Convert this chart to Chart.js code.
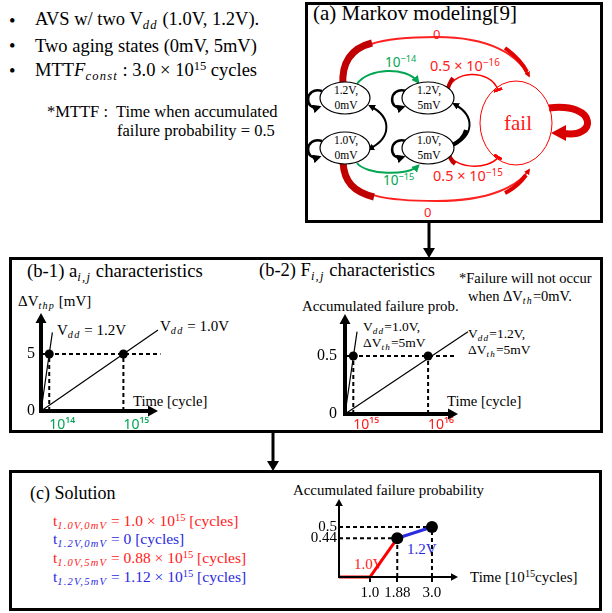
<!DOCTYPE html>
<html><head><meta charset="utf-8">
<script src="https://cdn.jsdelivr.net/npm/chart.js@4"></script>
<style>
body{margin:0;background:#fff;width:612px;height:613px;overflow:hidden;position:relative;font-family:"Liberation Serif","Times New Roman",serif;}
.t{position:absolute;white-space:nowrap;line-height:1;transform:translateY(-50%);color:#000;font-family:"Liberation Serif",serif}
.box{position:absolute;border:3px solid #000;box-sizing:border-box}
canvas{position:absolute}
.s{font-size:0.68em;vertical-align:-0.3em;font-style:italic;letter-spacing:1.2px}
.p{font-size:0.68em;vertical-align:0.5em}
.t.m{font-family:"Noto Sans",sans-serif}
.g{color:#00a651}.r{color:#ff1a1a}.b{color:#2a2ae0}
</style></head><body>

<div class="box" style="left:305px;top:2px;width:298px;height:221px"></div>
<div class="box" style="left:9px;top:257px;width:594px;height:176px"></div>
<div class="box" style="left:9px;top:470px;width:593px;height:141px"></div>

<svg width="612" height="613" style="position:absolute;left:0;top:0">
<defs>
<marker id="mk" viewBox="0 0 10 10" refX="7" refY="5" markerWidth="3.5" markerHeight="3.5" orient="auto-start-reverse"><path d="M0,0L10,5L0,10z" fill="#000"/></marker>
<marker id="mg" viewBox="0 0 10 10" refX="7" refY="5" markerWidth="4" markerHeight="4" orient="auto"><path d="M0,0L10,5L0,10z" fill="#00a651"/></marker>
<marker id="mrb" viewBox="0 0 10 10" refX="7" refY="5" markerWidth="3" markerHeight="3" orient="auto"><path d="M0,0L10,5L0,10z" fill="#e00000"/></marker>
<marker id="bar" viewBox="0 0 4 12" refX="2" refY="6" markerWidth="2" markerHeight="6" orient="auto"><rect x="0" y="0" width="4" height="12" fill="#ff0000"/></marker>
</defs>
<line x1="429" y1="223" x2="429" y2="249" stroke="#000" stroke-width="3"/>
<path d="M423,248L435,248L429,258z" fill="#000"/>
<line x1="273" y1="433" x2="273" y2="462" stroke="#000" stroke-width="3"/>
<path d="M267,461L279,461L273,471z" fill="#000"/>

<g fill="none">
<path d="M343,84 C340,40 390,37 437,37 C490,37 518,55 529,76" stroke="#ff2020" stroke-width="2" marker-end="url(#mrb)"/>
<path d="M343,86 C341,62 352,48 372,43" stroke="#c00000" stroke-width="7"/>
<path d="M505,48 C516,56 523,64 527,72" stroke="#e00000" stroke-width="4"/>
<path d="M343,163 C345,200 398,201 437,201 C490,201 518,186 529,170" stroke="#ff2020" stroke-width="2" marker-end="url(#mrb)"/>
<path d="M343,162 C344,182 354,192 374,197" stroke="#c00000" stroke-width="7"/>
<path d="M505,193 C515,188 521,182 526,175" stroke="#e00000" stroke-width="4"/>
<path d="M357,84 C368,68 406,66 418,82" stroke="#00a651" stroke-width="2" marker-end="url(#mg)"/>
<path d="M357,163 C366,175 408,176 418,166" stroke="#00a651" stroke-width="2" marker-end="url(#mg)"/>
<path d="M447,92 C451,70 490,68 498,90" stroke="#ff0000" stroke-width="1.5" marker-end="url(#bar)"/>
<path d="M447,93 C448,86 450,82 453,78" stroke="#c00000" stroke-width="4"/>
<path d="M449,152 C452,170 490,170 498,157" stroke="#ff0000" stroke-width="1.5" marker-end="url(#bar)"/>
<path d="M449,151 C449,157 451,161 455,164" stroke="#c00000" stroke-width="4"/>
<path d="M370,106 C392,117 392,138 369,149" stroke="#000" stroke-width="2" marker-start="url(#mk)" marker-end="url(#mk)"/>
<path d="M454,104 C476,116 474,136 452,146" stroke="#000" stroke-width="2" marker-start="url(#mk)"/>
<path d="M466,130 C464,138 458,143 450,146" stroke="#000" stroke-width="4"/>
<path d="M322,91 C304,86 304,112 319,107" stroke="#000" stroke-width="2.5" marker-end="url(#mk)"/>
<path d="M322,141 C304,136 304,162 319,157" stroke="#000" stroke-width="2.5" marker-end="url(#mk)"/>
<path d="M406,91 C388,86 388,112 403,107" stroke="#000" stroke-width="2.5" marker-end="url(#mk)"/>
<path d="M406,141 C388,136 388,162 403,157" stroke="#000" stroke-width="2.5" marker-end="url(#mk)"/>
<path d="M549,108 C598,102 598,140 562,133" stroke="#d80000" stroke-width="7"/>
<ellipse cx="345" cy="98" rx="25" ry="16" stroke="#000" stroke-width="1.2" fill="#fff"/>
<ellipse cx="345" cy="148" rx="25" ry="16" stroke="#000" stroke-width="1.2" fill="#fff"/>
<ellipse cx="428" cy="98" rx="26" ry="16" stroke="#000" stroke-width="1.2" fill="#fff"/>
<ellipse cx="428" cy="148" rx="26" ry="16" stroke="#000" stroke-width="1.2" fill="#fff"/>
<ellipse cx="516" cy="123" rx="36" ry="42" stroke="#ff0000" stroke-width="1"/>
</g>
<path d="M566,125 L551,133 L566,141 z" fill="#d80000"/>
<g font-family="Liberation Serif" font-size="11.5" text-anchor="middle" fill="#000">
<text x="346" y="94">1.2V,</text><text x="346" y="109">0mV</text>
<text x="346" y="144">1.0V,</text><text x="346" y="159">0mV</text>
<text x="429" y="94">1.2V,</text><text x="429" y="109">5mV</text>
<text x="429" y="144">1.0V,</text><text x="429" y="159">5mV</text>
</g>
<text x="518" y="130" font-family="Liberation Serif" font-size="21" text-anchor="middle" fill="#ff1a1a">fail</text>
</svg>

<div class="t" style="left:9px;top:21px;font-size:18.5px">•</div>
<div class="t" style="left:35px;top:21px;font-size:18.5px">AVS w/ two V<span class="s">dd</span> (1.0V, 1.2V).</div>
<div class="t" style="left:9px;top:46px;font-size:18.5px">•</div>
<div class="t" style="left:35px;top:46px;font-size:18.5px">Two aging states (0mV, 5mV)</div>
<div class="t" style="left:9px;top:71px;font-size:18.5px">•</div>
<div class="t" style="left:35px;top:71px;font-size:18.5px">MTT<i>F</i><span class="s">const</span> : 3.0 × 10<span class="p">15</span> cycles</div>
<div class="t" style="left:47px;top:112px;font-size:16.5px">*MTTF :&nbsp; Time when accumulated</div>
<div class="t" style="left:117px;top:131px;font-size:16.5px">failure probability = 0.5</div>

<div class="t" style="left:313px;top:13px;font-size:21px">(a) Markov modeling[9]</div>
<div class="t m r" style="left:433px;top:34px;font-size:13px">0</div>
<div class="t m r" style="left:424px;top:212px;font-size:13px">0</div>
<div class="t m g" style="left:385px;top:62px;font-size:13.5px">10<span class="p">−14</span></div>
<div class="t m g" style="left:383px;top:180px;font-size:13.5px">10<span class="p">−15</span></div>
<div class="t m r" style="left:430px;top:65px;font-size:14.5px">0.5 × 10<span class="p">−16</span></div>
<div class="t m r" style="left:433px;top:175px;font-size:14.5px">0.5 × 10<span class="p">−15</span></div>

<div class="t" style="left:27px;top:273px;font-size:18.7px">(b-1) a<span class="s">i,j</span> characteristics</div>
<div class="t" style="left:18px;top:303px;font-size:15px">ΔV<span class="s">thp</span> [mV]</div>
<div class="t" style="left:57px;top:332px;font-size:15px">V<span class="s">dd</span> = 1.2V</div>
<div class="t" style="left:160px;top:328px;font-size:15px">V<span class="s">dd</span> = 1.0V</div>
<div class="t" style="left:133px;top:401px;font-size:14.6px">Time [cycle]</div>

<div class="t" style="left:259px;top:272px;font-size:18.5px">(b-2) F<span class="s">i,j</span> characteristics</div>
<div class="t" style="left:459px;top:278px;font-size:14.5px">*Failure will not occur</div>
<div class="t" style="left:468px;top:297px;font-size:14.5px">when ΔV<span class="s">th</span>=0mV.</div>
<div class="t" style="left:302px;top:306px;font-size:14.9px">Accumulated failure prob.</div>
<div class="t" style="left:363px;top:328px;font-size:13.5px">V<span class="s">dd</span>=1.0V,</div>
<div class="t" style="left:363px;top:344px;font-size:13.5px">ΔV<span class="s">th</span>=5mV</div>
<div class="t" style="left:468px;top:335px;font-size:13.5px">V<span class="s">dd</span>=1.2V,</div>
<div class="t" style="left:468px;top:351px;font-size:13.5px">ΔV<span class="s">th</span>=5mV</div>
<div class="t" style="left:447px;top:401px;font-size:14.6px">Time [cycle]</div>

<div class="t" style="left:30px;top:493px;font-size:18px">(c) Solution</div>
<div class="t r" style="left:53px;top:522px;font-size:15.5px">t<span class="s">1.0V,0mV</span> = 1.0 × 10<span class="p">15</span> [cycles]</div>
<div class="t b" style="left:53px;top:540px;font-size:15.5px">t<span class="s">1.2V,0mV</span> = 0 [cycles]</div>
<div class="t r" style="left:53px;top:559px;font-size:15.5px">t<span class="s">1.0V,5mV</span> = 0.88 × 10<span class="p">15</span> [cycles]</div>
<div class="t b" style="left:53px;top:578px;font-size:15.5px">t<span class="s">1.2V,5mV</span> = 1.12 × 10<span class="p">15</span> [cycles]</div>
<div class="t" style="left:293px;top:490px;font-size:14.9px">Accumulated failure probability</div>
<div class="t" style="left:470px;top:577px;font-size:15px">Time [10<span class="p">15</span>cycles]</div>
<div class="t r" style="left:354px;top:564px;font-size:15px">1.0V</div>
<div class="t b" style="left:407px;top:549px;font-size:15px">1.2V</div>

<canvas id="c1" width="165" height="140" style="left:12px;top:300px"></canvas>
<canvas id="c2" width="190" height="140" style="left:295px;top:300px"></canvas>
<canvas id="c3" width="185" height="115" style="left:295px;top:490px"></canvas>

<script>
// ---------- (b-1) a_ij characteristics : time in units of 1e14 cycles, ΔVthp in mV
const b1TickTimes = [1, 10];
const b1TickLabels = ['10¹⁴', '10¹⁵'];
const b1YTicks = [0, 5];
const b1YLabels = ['0', '5'];
const b1Vdd12Time = [0, 1.38];
const b1Vdd12Shift = [0, 6.9];
const b1Vdd10Time = [0, 14.2];
const b1Vdd10Shift = [0, 7.1];
const b1MarkTime = [1, 10];
const b1MarkShift = [5, 5];
const b1DashEnd = 14.5;

// ---------- (b-2) F_ij characteristics : time in units of 1e15 cycles
const b2TickTimes = [1, 10];
const b2TickLabels = ['10¹⁵', '10¹⁶'];
const b2YTicks = [0, 0.5];
const b2YLabels = ['0', '0.5'];
const b2Vdd10Time = [0, 1.45];
const b2Vdd10Prob = [0, 0.71];
const b2Vdd12Time = [0, 14.8];
const b2Vdd12Prob = [0, 0.71];
const b2MarkTime = [1, 10];
const b2MarkProb = [0.5, 0.5];
const b2DashEnd = 13.3;

// ---------- (c) solution : time in units of 1e15 cycles
const cTickTimes = [1.0, 1.88, 3.0];
const cTickLabels = ['1.0', '1.88', '3.0'];
const cYTicks = [0.44, 0.5];
const cYLabels = ['0.44', '0.5'];
const c10Time = [0, 1.0, 1.88];
const c10Prob = [0, 0, 0.44];
const c12Time = [1.88, 3.0];
const c12Prob = [0.44, 0.5];

const zip = (xs, ys) => xs.map((x, i) => ({x, y: ys[i]}));

// schematic (square-law) value axis used by the solution sketch
class Pow2Scale extends Chart.LinearScale {
  getPixelForValue(value) {
    if (value === null || value === undefined) return NaN;
    const d = (value - this.min) / (this.max - this.min);
    return this.getPixelForDecimal(d * Math.abs(d));
  }
  getValueForPixel(pixel) {
    const d = this.getDecimalForPixel(pixel);
    return this.min + Math.sign(d) * Math.sqrt(Math.abs(d)) * (this.max - this.min);
  }
}
Pow2Scale.id = 'pow2';
Pow2Scale.defaults = Chart.LinearScale.defaults;
Chart.register(Pow2Scale);

const arrowAxes = {
  id: 'arrowAxes',
  afterDatasetsDraw(chart, args, o) {
    const {ctx, chartArea: {left, right, top, bottom}} = chart;
    ctx.save();
    ctx.strokeStyle = '#000'; ctx.fillStyle = '#000'; ctx.lineWidth = o.width;
    ctx.beginPath();
    ctx.moveTo(left, bottom + o.width / 2); ctx.lineTo(left, top + o.head);
    ctx.moveTo(left - o.width / 2, bottom); ctx.lineTo(right - o.head, bottom);
    ctx.stroke();
    ctx.beginPath();
    ctx.moveTo(right, bottom); ctx.lineTo(right - o.head, bottom - o.head * 0.55); ctx.lineTo(right - o.head, bottom + o.head * 0.55); ctx.closePath();
    ctx.moveTo(left, top); ctx.lineTo(left - o.head * 0.55, top + o.head); ctx.lineTo(left + o.head * 0.55, top + o.head); ctx.closePath();
    ctx.fill();
    ctx.restore();
  }
};

function dashSets(markX, markY, dashEnd) {
  const sets = [];
  [...new Set(markY)].forEach((yv) => {
    const xe = dashEnd !== null ? dashEnd : Math.max(...markX.filter((x, i) => markY[i] === yv));
    sets.push(zip([0, xe], [yv, yv]));
  });
  markX.forEach((xv, i) => sets.push(zip([xv, xv], [0, markY[i]])));
  return sets.map(d => ({data: d, borderColor: '#000', borderWidth: 2, borderDash: [4, 3], pointRadius: 0, clip: false, order: 3}));
}

function makeChart(id, cfg) {
  new Chart(document.getElementById(id), {
    type: 'line',
    data: {datasets: [
      {data: zip(cfg.markX, cfg.markY), showLine: false, pointRadius: cfg.dot, pointBackgroundColor: '#000', pointBorderWidth: 0, clip: false, order: 0},
      ...cfg.lines.map(l => ({data: l.data, borderColor: l.color, borderWidth: l.w, pointRadius: 0, clip: false, order: 1})),
      ...dashSets(cfg.markX, cfg.markY, cfg.dashEnd)
    ]},
    options: {
      responsive: false, animation: false, devicePixelRatio: 1,
      layout: {padding: {top: cfg.padTop, right: cfg.padRight, left: 0, bottom: 0}},
      plugins: {legend: {display: false}, tooltip: {enabled: false}, arrowAxes: {width: cfg.axisW, head: cfg.head}},
      scales: {
        x: {type: 'linear', min: 0, max: cfg.xMax,
          afterBuildTicks: s => { s.ticks = cfg.xTicks.map(v => ({value: v})); },
          afterFit: s => { s.height = cfg.xH; s.paddingLeft = 0; s.paddingRight = 0; },
          ticks: {autoSkip: false, maxRotation: 0, align: cfg.xAlign, padding: cfg.xPad, color: cfg.xColor, font: cfg.xFont, callback: (v, i) => cfg.xLabels[i]},
          grid: {display: cfg.xTickMarks, drawTicks: cfg.xTickMarks, drawOnChartArea: false, tickLength: 5, color: '#000', lineWidth: 2},
          border: {display: false}},
        y: {type: cfg.yType || 'linear', min: 0, max: cfg.yMax,
          afterBuildTicks: s => { s.ticks = cfg.yTicks.map(v => ({value: v})); },
          afterFit: s => { s.width = cfg.yW; s.paddingTop = 0; s.paddingBottom = 0; },
          ticks: {padding: cfg.yPad, color: '#000', font: cfg.yFont, callback: (v, i) => cfg.yLabels[i]},
          grid: {display: false, drawTicks: false}, border: {display: false}}
      }
    },
    plugins: [arrowAxes]
  });
}

makeChart('c1', {
  xMax: 14.2, yMax: 8.6, xH: 29, yW: 29, padTop: 13, padRight: 19,
  xTicks: b1TickTimes, xLabels: b1TickLabels, xAlign: 'start', xPad: 6, xColor: '#00a651', xFont: {family: 'Noto Sans', size: 14}, xTickMarks: false,
  yTicks: b1YTicks, yLabels: b1YLabels, yPad: 6, yFont: {family: 'Liberation Serif', size: 16},
  markX: b1MarkTime, markY: b1MarkShift, dashEnd: b1DashEnd, dot: 4.5, axisW: 4, head: 10,
  lines: [{data: zip(b1Vdd12Time, b1Vdd12Shift), color: '#000', w: 1.2}, {data: zip(b1Vdd10Time, b1Vdd10Shift), color: '#000', w: 1.2}]
});

makeChart('c2', {
  xMax: 13.6, yMax: 0.862, xH: 26, yW: 50, padTop: 14, padRight: 27,
  xTicks: b2TickTimes, xLabels: b2TickLabels, xAlign: 'start', xPad: 3, xColor: '#ff1a1a', xFont: {family: 'Noto Sans', size: 14}, xTickMarks: false,
  yTicks: b2YTicks, yLabels: b2YLabels, yPad: 8, yFont: {family: 'Liberation Serif', size: 16},
  markX: b2MarkTime, markY: b2MarkProb, dashEnd: b2DashEnd, dot: 4.5, axisW: 4, head: 10,
  lines: [{data: zip(b2Vdd10Time, b2Vdd10Prob), color: '#000', w: 1.2}, {data: zip(b2Vdd12Time, b2Vdd12Prob), color: '#000', w: 1.2}]
});

makeChart('c3', {
  xMax: 3.84, yMax: 0.6245, yType: 'pow2', xH: 28, yW: 44, padTop: 9, padRight: 22,
  xTicks: cTickTimes, xLabels: cTickLabels, xAlign: 'center', xPad: 2, xColor: '#000', xFont: {family: 'Liberation Serif', size: 15}, xTickMarks: true,
  yTicks: cYTicks, yLabels: cYLabels, yPad: 2, yFont: {family: 'Liberation Serif', size: 15},
  markX: [c10Time[2], c12Time[1]], markY: [c10Prob[2], c12Prob[1]], dashEnd: null, dot: 6, axisW: 2, head: 7,
  lines: [{data: zip(c10Time, c10Prob), color: '#ff0000', w: 3}, {data: zip(c12Time, c12Prob), color: '#2a2ae0', w: 3}]
});
</script>
</body></html>
